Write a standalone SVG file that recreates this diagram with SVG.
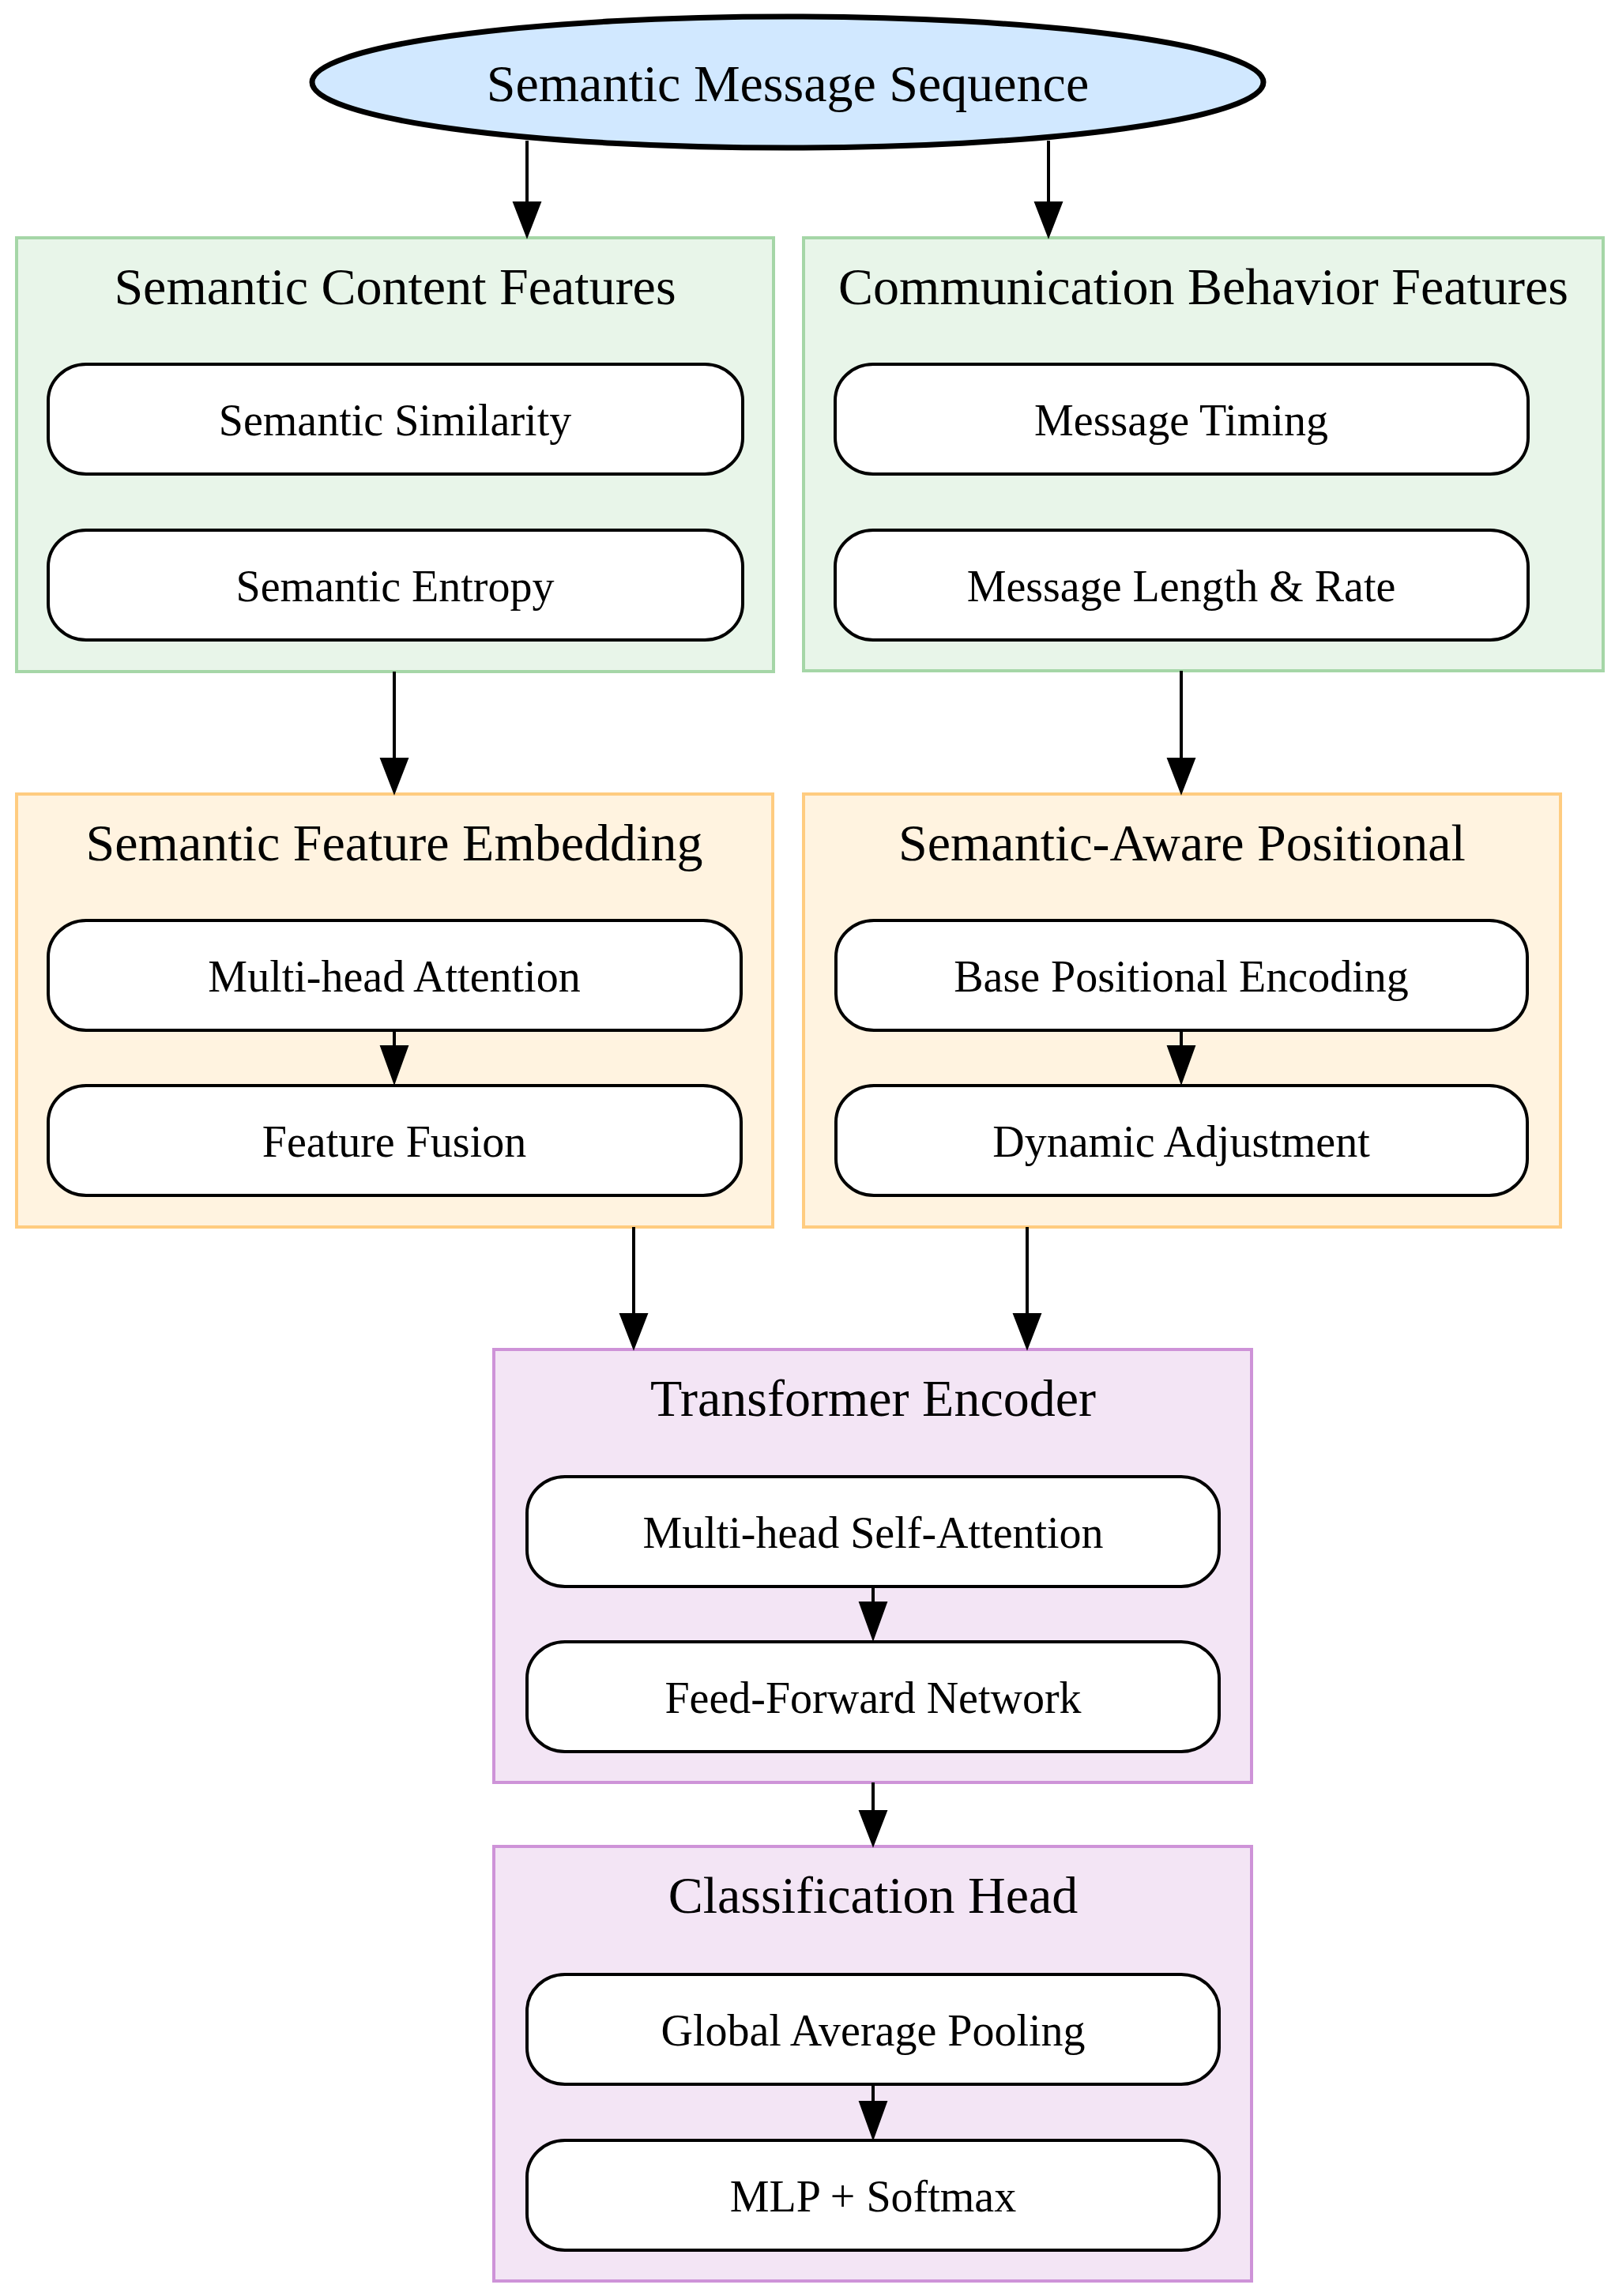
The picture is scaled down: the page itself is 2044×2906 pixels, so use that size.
<svg xmlns="http://www.w3.org/2000/svg" width="2044" height="2906" viewBox="0 0 2044 2906">
<style>
text{font-family:"Liberation Serif","Times New Roman",serif;fill:#000;text-anchor:middle}
.t{font-size:66px}
.n{font-size:56px}
.node{fill:#fff;stroke:#000;stroke-width:4}
.cg{fill:#E8F5E9;stroke:#A5D6A7;stroke-width:4}
.co{fill:#FFF3E0;stroke:#FFCC80;stroke-width:4}
.cp{fill:#F3E5F5;stroke:#CE93D8;stroke-width:4}
.e{stroke:#000;stroke-width:4;fill:none}
.h{fill:#000;stroke:#000;stroke-width:2}
</style>
<rect width="2044" height="2906" fill="#fff"/>
<g id="cluster_content">
<rect class="cg" x="21" y="301" width="958" height="549"/>
<text class="t" x="500" y="385">Semantic Content Features</text>
</g>
<g id="cluster_behavior">
<rect class="cg" x="1017" y="301" width="1012" height="548"/>
<text class="t" x="1523" y="385">Communication Behavior Features</text>
</g>
<g id="cluster_embedding">
<rect class="co" x="21" y="1005" width="957" height="548"/>
<text class="t" x="499" y="1089">Semantic Feature Embedding</text>
</g>
<g id="cluster_positional">
<rect class="co" x="1017" y="1005" width="958" height="548"/>
<text class="t" x="1496" y="1089">Semantic-Aware Positional</text>
</g>
<g id="cluster_encoder">
<rect class="cp" x="625" y="1708" width="959" height="548"/>
<text class="t" x="1105" y="1792">Transformer Encoder</text>
</g>
<g id="cluster_head">
<rect class="cp" x="625" y="2337" width="959" height="550"/>
<text class="t" x="1105" y="2421">Classification Head</text>
</g>
<g id="input">
<ellipse cx="997" cy="104" rx="602" ry="83" fill="#D1E8FF" stroke="#000" stroke-width="7"/>
<text class="t" x="997" y="128">Semantic Message Sequence</text>
</g>
<g id="sem_sim">
<rect class="node" x="61" y="461" width="879" height="139" rx="48" ry="46"/>
<text class="n" x="500" y="551">Semantic Similarity</text>
</g>
<g id="sem_ent">
<rect class="node" x="61" y="671" width="879" height="139" rx="48" ry="46"/>
<text class="n" x="500" y="761">Semantic Entropy</text>
</g>
<g id="msg_timing">
<rect class="node" x="1057" y="461" width="877" height="139" rx="48" ry="46"/>
<text class="n" x="1495" y="551">Message Timing</text>
</g>
<g id="msg_len">
<rect class="node" x="1057" y="671" width="877" height="139" rx="48" ry="46"/>
<text class="n" x="1495" y="761">Message Length &amp; Rate</text>
</g>
<g id="mha">
<rect class="node" x="61" y="1165" width="877" height="139" rx="48" ry="46"/>
<text class="n" x="499" y="1255">Multi-head Attention</text>
</g>
<g id="fusion">
<rect class="node" x="61" y="1374" width="877" height="139" rx="48" ry="46"/>
<text class="n" x="499" y="1464">Feature Fusion</text>
</g>
<g id="base_pe">
<rect class="node" x="1058" y="1165" width="875" height="139" rx="48" ry="46"/>
<text class="n" x="1495" y="1255">Base Positional Encoding</text>
</g>
<g id="dyn_adj">
<rect class="node" x="1058" y="1374" width="875" height="139" rx="48" ry="46"/>
<text class="n" x="1495" y="1464">Dynamic Adjustment</text>
</g>
<g id="mhsa">
<rect class="node" x="667" y="1869" width="876" height="139" rx="48" ry="46"/>
<text class="n" x="1105" y="1959">Multi-head Self-Attention</text>
</g>
<g id="ffn">
<rect class="node" x="667" y="2078" width="876" height="139" rx="48" ry="46"/>
<text class="n" x="1105" y="2168">Feed-Forward Network</text>
</g>
<g id="gap">
<rect class="node" x="667" y="2499" width="876" height="139" rx="48" ry="46"/>
<text class="n" x="1105" y="2589">Global Average Pooling</text>
</g>
<g id="mlp">
<rect class="node" x="667" y="2709" width="876" height="139" rx="48" ry="46"/>
<text class="n" x="1105" y="2799">MLP + Softmax</text>
</g>
<g id="connectors">
<line class="e" x1="667" y1="178" x2="667" y2="258"/>
<polygon class="h" points="650,256 684,256 667,300"/>
<line class="e" x1="1327" y1="178" x2="1327" y2="258"/>
<polygon class="h" points="1310,256 1344,256 1327,300"/>
<line class="e" x1="499" y1="850" x2="499" y2="962"/>
<polygon class="h" points="482,960 516,960 499,1004"/>
<line class="e" x1="1495" y1="849" x2="1495" y2="962"/>
<polygon class="h" points="1478,960 1512,960 1495,1004"/>
<line class="e" x1="499" y1="1306" x2="499" y2="1326"/>
<polygon class="h" points="482,1324 516,1324 499,1371"/>
<line class="e" x1="1495" y1="1306" x2="1495" y2="1326"/>
<polygon class="h" points="1478,1324 1512,1324 1495,1371"/>
<line class="e" x1="802" y1="1553" x2="802" y2="1665"/>
<polygon class="h" points="785,1663 819,1663 802,1707"/>
<line class="e" x1="1300" y1="1553" x2="1300" y2="1665"/>
<polygon class="h" points="1283,1663 1317,1663 1300,1707"/>
<line class="e" x1="1105" y1="2010" x2="1105" y2="2030"/>
<polygon class="h" points="1088,2028 1122,2028 1105,2075"/>
<line class="e" x1="1105" y1="2256" x2="1105" y2="2294"/>
<polygon class="h" points="1088,2292 1122,2292 1105,2336"/>
<line class="e" x1="1105" y1="2640" x2="1105" y2="2662"/>
<polygon class="h" points="1088,2660 1122,2660 1105,2707"/>
</g>
</svg>
